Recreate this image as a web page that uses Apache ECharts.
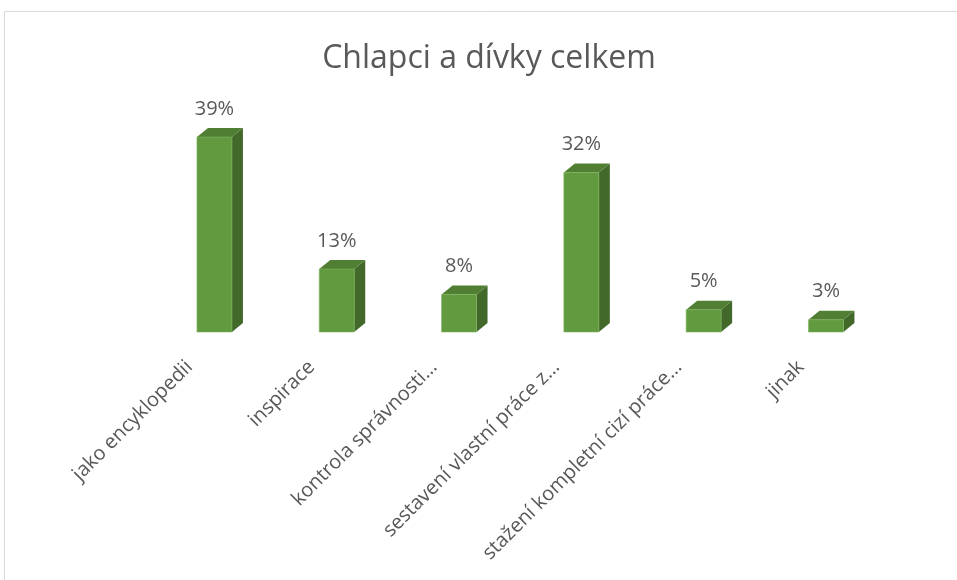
<!DOCTYPE html>
<html>
<head>
<meta charset="utf-8">
<script src="https://cdn.jsdelivr.net/npm/echarts@6/dist/echarts.min.js"></script>
<style>
html,body{margin:0;padding:0;background:#fff;}
#chart{width:957px;height:580px;}
</style>
</head>
<body>
<div id="chart"></div>
<script>
// ---- data ----
const titleText = 'Chlapci a dívky celkem';
const categories = [
  'jako encyklopedii',
  'inspirace',
  'kontrola správnosti…',
  'sestavení vlastní práce z…',
  'stažení kompletní cizí práce…',
  'jinak'
];
const values = [39, 13, 8, 32, 5, 3];

// ---- style constants ----
const FONT = '"Open Sans", "Noto Sans", sans-serif';
const TEXT_COLOR = '#595959';
const FRONT = '#629b3f';
const TOP = '#507f33';
const SIDE = '#42692a';
const BAR_RATIO = 0.286;
const DX = 11, DY = 9;
const SHIFT = 25;
const FLOOR = 3;

const chart = echarts.init(document.getElementById('chart'));
chart.setOption({
  animation: false,
  backgroundColor: '#fff',
  title: {
    text: titleText,
    left: 484,
    top: 38,
    textAlign: 'center',
    textStyle: {fontFamily: FONT, fontSize: 32, fontWeight: 'normal', color: TEXT_COLOR}
  },
  graphic: [{
    type: 'rect',
    shape: {x: 4.5, y: 11.5, width: 1200, height: 1200},
    style: {fill: 'none', stroke: '#d9d9d9', lineWidth: 1},
    silent: true
  }],
  grid: {left: 153.3 - SHIFT, right: 69.9 + SHIFT, top: 132, bottom: 245, containLabel: false},
  xAxis: {
    type: 'category',
    data: categories,
    axisLine: {show: false},
    axisTick: {show: false},
    axisLabel: {
      rotate: 45, interval: 0, margin: 29,
      fontFamily: FONT, fontSize: 20, color: TEXT_COLOR
    }
  },
  yAxis: {
    type: 'value', min: 0, max: 40,
    show: false
  },
  series: [{
    type: 'custom',
    data: values.map((v, i) => [i, v]),
    encode: {x: 0, y: 1},
    renderItem: function (params, api) {
      const idx = api.value(0), v = api.value(1);
      const top = api.coord([idx, v]);
      const base = api.coord([idx, 0]);
      const band = api.size([1, 0])[0];
      const w = band * BAR_RATIO;
      const x0 = top[0] + SHIFT - w / 2, x1 = x0 + w;
      const yT = top[1], yB = base[1] - FLOOR;
      return {
        type: 'group',
        children: [
          {type: 'polygon', shape: {points: [[x1, yT], [x1 + DX, yT - DY], [x1 + DX, yB - DY], [x1, yB]]},
           style: {fill: SIDE}},
          {type: 'polygon', shape: {points: [[x0, yT], [x1, yT], [x1 + DX, yT - DY], [x0 + DX, yT - DY]]},
           style: {fill: TOP}},
          {type: 'rect', shape: {x: x0, y: yT, width: w, height: yB - yT},
           style: {fill: FRONT, stroke: '#7fb35e', lineWidth: 0.6}},
          {type: 'text', x: x0 + w / 2, y: yT - DY - 9,
           style: {text: v + '%', align: 'center', verticalAlign: 'bottom',
                   fontFamily: FONT, fontSize: 20, fill: TEXT_COLOR}}
        ]
      };
    }
  }]
});
</script>
</body>
</html>
